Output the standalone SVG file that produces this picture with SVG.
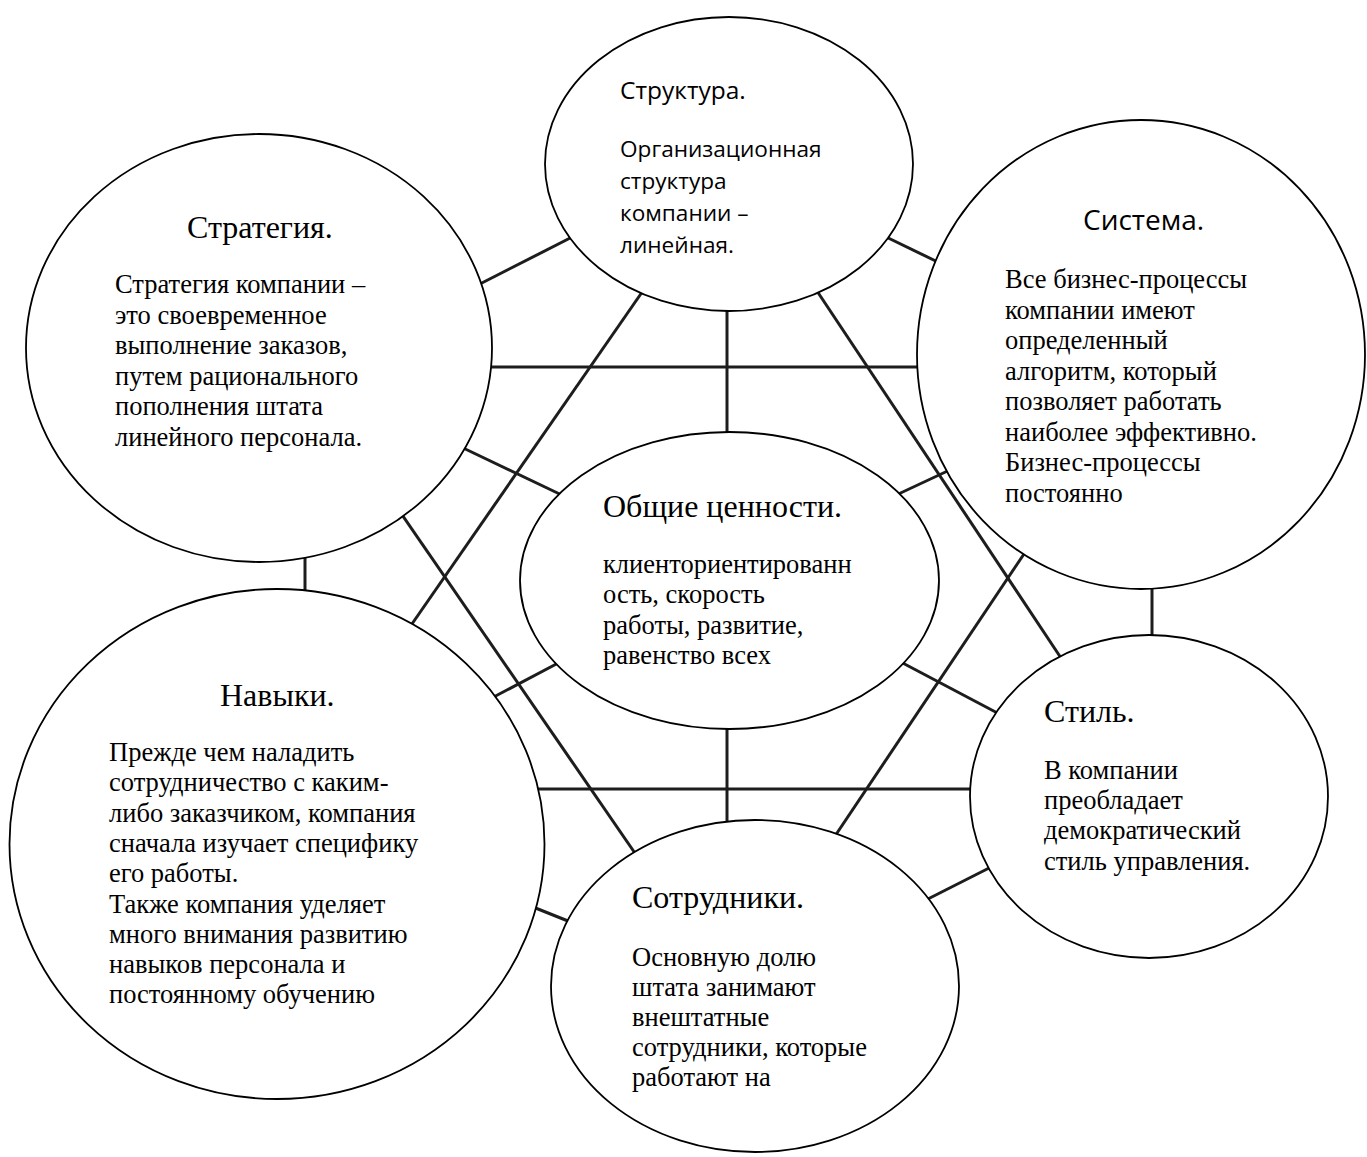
<svg xmlns="http://www.w3.org/2000/svg" width="1367" height="1157" viewBox="0 0 1367 1157">
<style>
.bg{fill:#fff}
.conn line{stroke:#1d1d1d;stroke-width:3;stroke-linecap:butt}
.node ellipse{fill:#fff;stroke:#000;stroke-width:1.8}
.serif{font-family:"Liberation Serif","Times New Roman",serif;fill:#000}
.sans{font-family:"Open Sans","Noto Sans","Liberation Sans",sans-serif;fill:#000}
.h{font-size:32px}
.b{font-size:26.5px}
.hs{font-size:24.5px}
.bs{font-size:22.6px}
.hs2{font-size:28px}
</style>
<rect class="bg" x="0" y="0" width="1367" height="1157"/>
<g id="connectors" class="conn">
<line x1="474" y1="287" x2="578" y2="234"/>
<line x1="485" y1="367" x2="925" y2="367"/>
<line x1="727" y1="305" x2="727" y2="440"/>
<line x1="880" y1="234" x2="946" y2="266"/>
<line x1="647" y1="285" x2="405" y2="634"/>
<line x1="396" y1="506" x2="639" y2="859"/>
<line x1="813" y1="285" x2="1065" y2="664"/>
<line x1="1030" y1="545" x2="831" y2="842"/>
<line x1="459" y1="446" x2="568" y2="498"/>
<line x1="892" y1="497" x2="954" y2="468"/>
<line x1="562" y1="661" x2="488" y2="700"/>
<line x1="530" y1="789" x2="980" y2="789"/>
<line x1="727" y1="720" x2="727" y2="830"/>
<line x1="897" y1="660" x2="1005" y2="717"/>
<line x1="518" y1="901" x2="578" y2="925"/>
<line x1="920" y1="903" x2="997" y2="864"/>
<line x1="305" y1="552" x2="305" y2="596"/>
<line x1="1152" y1="580" x2="1152" y2="642"/>
</g>
<g id="strategy" class="node">
<ellipse cx="259" cy="348" rx="233" ry="214"/>
<text class="serif h" x="187" y="238">Стратегия.</text>
<text class="serif b" x="115" y="293">Стратегия компании –</text>
<text class="serif b" x="115" y="323.5">это своевременное</text>
<text class="serif b" x="115" y="354">выполнение заказов,</text>
<text class="serif b" x="115" y="384.5">путем рационального</text>
<text class="serif b" x="115" y="415">пополнения штата</text>
<text class="serif b" x="115" y="445.5">линейного персонала.</text>
</g>
<g id="structure" class="node">
<ellipse cx="729" cy="164" rx="184" ry="147"/>
<text class="sans hs" x="620" y="99">Структура.</text>
<text class="sans bs" x="620" y="157">Организационная</text>
<text class="sans bs" x="620" y="189">структура</text>
<text class="sans bs" x="620" y="220.5">компании –</text>
<text class="sans bs" x="620" y="252.5">линейная.</text>
</g>
<g id="system" class="node">
<ellipse cx="1141" cy="354.5" rx="224" ry="234.5"/>
<text class="sans hs2" x="1083" y="230">Система.</text>
<text class="serif b" x="1005" y="288">Все бизнес-процессы</text>
<text class="serif b" x="1005" y="318.5">компании имеют</text>
<text class="serif b" x="1005" y="349">определенный</text>
<text class="serif b" x="1005" y="379.5">алгоритм, который</text>
<text class="serif b" x="1005" y="410">позволяет работать</text>
<text class="serif b" x="1005" y="440.5">наиболее эффективно.</text>
<text class="serif b" x="1005" y="471">Бизнес-процессы</text>
<text class="serif b" x="1005" y="501.5">постоянно</text>
</g>
<g id="shared-values" class="node">
<ellipse cx="729.5" cy="580.5" rx="209.5" ry="148.5"/>
<text class="serif h" x="603" y="516.5">Общие ценности.</text>
<text class="serif b" x="603" y="572.5">клиенториентированн</text>
<text class="serif b" x="603" y="603">ость, скорость</text>
<text class="serif b" x="603" y="633.5">работы, развитие,</text>
<text class="serif b" x="603" y="664">равенство всех</text>
</g>
<g id="skills" class="node">
<ellipse cx="277" cy="844" rx="267.5" ry="255"/>
<text class="serif h" x="220" y="705.5">Навыки.</text>
<text class="serif b" x="109" y="761">Прежде чем наладить</text>
<text class="serif b" x="109" y="791.3">сотрудничество с каким-</text>
<text class="serif b" x="109" y="821.6">либо заказчиком, компания</text>
<text class="serif b" x="109" y="851.9">сначала изучает специфику</text>
<text class="serif b" x="109" y="882.2">его работы.</text>
<text class="serif b" x="109" y="912.5">Также компания уделяет</text>
<text class="serif b" x="109" y="942.8">много внимания развитию</text>
<text class="serif b" x="109" y="973.1">навыков персонала и</text>
<text class="serif b" x="109" y="1003.4">постоянному обучению</text>
</g>
<g id="style" class="node">
<ellipse cx="1149" cy="796.5" rx="179" ry="161.5"/>
<text class="serif h" x="1044" y="722">Стиль.</text>
<text class="serif b" x="1044" y="779">В компании</text>
<text class="serif b" x="1044" y="809">преобладает</text>
<text class="serif b" x="1044" y="839">демократический</text>
<text class="serif b" x="1044" y="869.5">стиль управления.</text>
</g>
<g id="staff" class="node">
<ellipse cx="755" cy="986" rx="204" ry="166"/>
<text class="serif h" x="632" y="908">Сотрудники.</text>
<text class="serif b" x="632" y="966">Основную долю</text>
<text class="serif b" x="632" y="996">штата занимают</text>
<text class="serif b" x="632" y="1026">внештатные</text>
<text class="serif b" x="632" y="1056">сотрудники, которые</text>
<text class="serif b" x="632" y="1086">работают на</text>
</g>
</svg>
